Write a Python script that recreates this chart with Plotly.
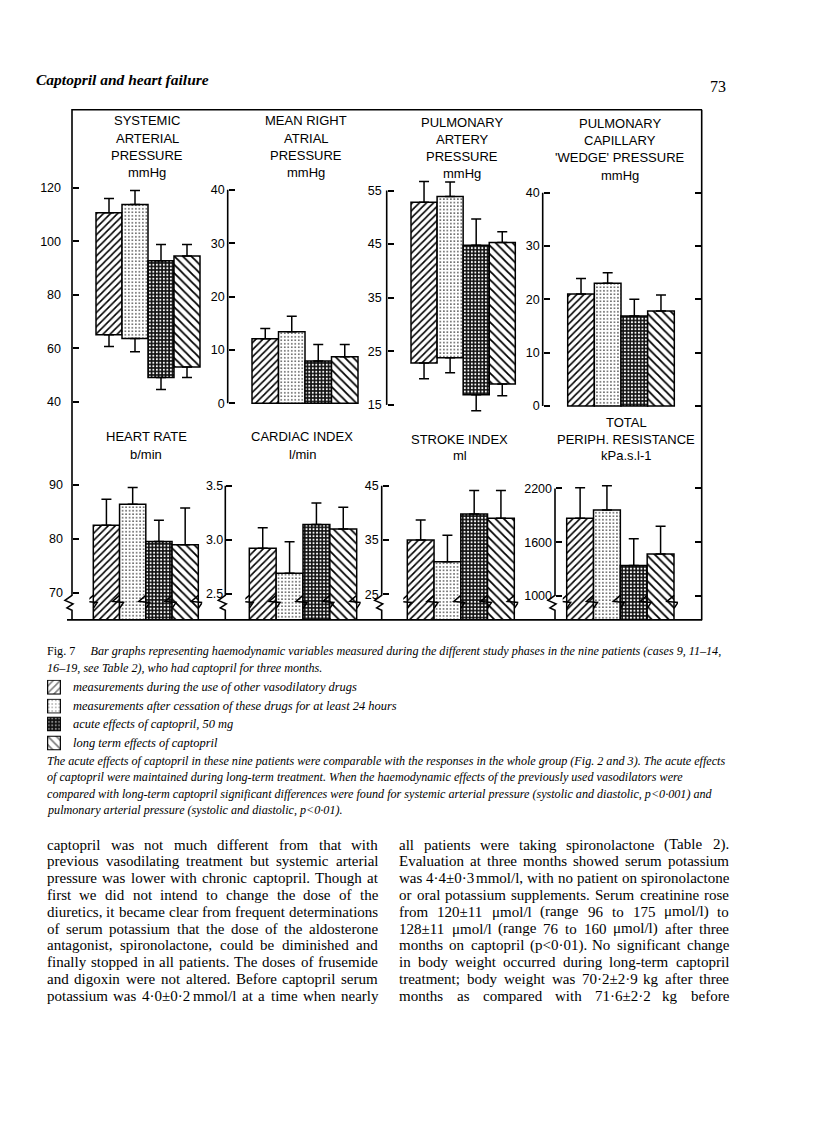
import plotly.graph_objects as go

# page is rendered inside the default 8px body margin, so the figure is
# 800x1109 and reference pixel coordinates are shifted by 8px
FW, FH, OFF = 800, 1109, 8
def X(px): return (px - OFF) / FW
def Y(py): return 1 - (py - OFF) / FH

# ---------------- data ----------------
phases = ["other vasodilators", "after cessation", "acute captopril 50 mg", "long-term captopril"]

sap_sys = [110.7, 113.8, 92.7, 94.5]
sap_sys_err = [116.0, 119.0, 98.8, 98.8]
sap_dia = [65.0, 63.6, 49.0, 53.0]
sap_dia_err = [60.6, 58.7, 44.5, 49.0]

rap = [12.1, 13.4, 7.9, 8.7]
rap_err = [14.0, 16.3, 11.0, 11.0]

pap_sys = [52.8, 53.9, 44.8, 45.3]
pap_sys_err = [56.7, 56.6, 49.7, 47.3]
pap_dia = [22.8, 23.8, 16.9, 18.9]
pap_dia_err = [19.9, 21.0, 13.9, 16.7]

pcwp = [21.0, 23.0, 16.9, 17.8]
pcwp_err = [23.9, 25.0, 20.0, 20.8]

hr = [82.5, 86.4, 79.5, 78.9]
hr_err = [87.3, 89.5, 83.4, 85.7]
ci = [2.92, 2.69, 3.14, 3.10]
ci_err = [3.11, 2.98, 3.34, 3.30]
si = [35.0, 31.0, 39.8, 39.0]
si_err = [38.7, 35.9, 44.1, 44.1]
tpr = [1866, 1958, 1340, 1470]
tpr_err = [2206, 2229, 1640, 1778]

sap_ticks = [40, 60, 80, 100, 120]
rap_ticks = [0, 10, 20, 30, 40]
pap_ticks = [15, 25, 35, 45, 55]
pcwp_ticks = [0, 10, 20, 30, 40]
hr_ticks = [70, 80, 90]
ci_ticks = [2.5, 3.0, 3.5]
ci_ticktext = ["2.5", "3.0", "3.5"]
si_ticks = [25, 35, 45]
tpr_ticks = [1000, 1600, 2200]

titles = {
    1: ["SYSTEMIC", "ARTERIAL", "PRESSURE", "mmHg"],
    2: ["MEAN RIGHT", "ATRIAL", "PRESSURE", "mmHg"],
    3: ["PULMONARY", "ARTERY", "PRESSURE", "mmHg"],
    4: ["PULMONARY", "CAPILLARY", "'WEDGE' PRESSURE", "mmHg"],
    5: ["HEART RATE", "b/min"],
    6: ["CARDIAC INDEX", "l/min"],
    7: ["STROKE INDEX", "ml"],
    8: ["TOTAL", "PERIPH. RESISTANCE", "kPa.s.l-1"],
}

legend_text = [
    "measurements during the use of other vasodilatory drugs",
    "measurements after cessation of these drugs for at least 24 hours",
    "acute effects of captopril, 50 mg",
    "long term effects of captopril",
]

caption1 = "Bar graphs representing haemodynamic variables measured during the different study phases in the nine patients (cases 9, 11–14,"
caption2 = "16–19, see Table 2), who had captopril for three months."
caption_par = [
    "The acute effects of captopril in these nine patients were comparable with the responses in the whole group (Fig. 2 and 3). The acute effects",
    "of captopril were maintained during long-term treatment. When the haemodynamic effects of the previously used vasodilators were",
    "compared with long-term captopril significant differences were found for systemic arterial pressure (systolic and diastolic, p<0·001) and",
    "pulmonary arterial pressure (systolic and diastolic, p<0·01).",
]
body_left = [
    "captopril was not much different from that with",
    "previous vasodilating treatment but systemic arterial",
    "pressure was lower with chronic captopril. Though at",
    "first we did not intend to change the dose of the",
    "diuretics, it became clear from frequent determinations",
    "of serum potassium that the dose of the aldosterone",
    "antagonist, spironolactone, could be diminished and",
    "finally stopped in all patients. The doses of frusemide",
    "and digoxin were not altered. Before captopril serum",
    "potassium was 4·0±0·2 mmol/l at a time when nearly",
]
body_right = [
    "all patients were taking spironolactone (Table 2).",
    "Evaluation at three months showed serum potassium",
    "was 4·4±0·3 mmol/l, with no patient on spironolactone",
    "or oral potassium supplements. Serum creatinine rose",
    "from 120±11 μmol/l (range 96 to 175 μmol/l) to",
    "128±11 μmol/l (range 76 to 160 μmol/l) after three",
    "months on captopril (p<0·01). No significant change",
    "in body weight occurred during long-term captopril",
    "treatment; body weight was 70·2±2·9 kg after three",
    "months as compared with 71·6±2·2 kg before",
]

# ---------------- styles / layout positions ----------------
SANS = "Liberation Sans"
SERIF = "Liberation Serif"
styles = [
    dict(shape="/", fgcolor="black", bgcolor="white", size=5, solidity=0.32),
    dict(shape=".", fgcolor="black", bgcolor="white", size=3.5, solidity=0.14),
    dict(shape=".", fgcolor="white", bgcolor="#111111", size=3.5, solidity=0.28),
    dict(shape="\\", fgcolor="black", bgcolor="white", size=6, solidity=0.3),
]

BASE_PX = 620.5
panels = [
    dict(k=1, top=sap_sys, top_err=sap_sys_err, bot=sap_dia, bot_err=sap_dia_err,
         bars=(96, 200), axis=72, cal=(120, 187.3, 40, 401.7), rng=(38, 122),
         ticks=sap_ticks, tt=None, standoff=11, cx=147, ty=[120, 138, 155, 172]),
    dict(k=2, top=rap, top_err=rap_err, bars=(252, 358), axis=227.7,
         cal=(40, 189.3, 0, 403.3), rng=(-1, 41), ticks=rap_ticks, tt=None,
         standoff=3, cx=306, ty=[120, 138, 155, 172]),
    dict(k=3, top=pap_sys, top_err=pap_sys_err, bot=pap_dia, bot_err=pap_dia_err,
         bars=(411, 515.3), axis=386.7, cal=(55, 190, 15, 405), rng=(12, 57),
         ticks=pap_ticks, tt=None, standoff=5, cx=462, ty=[122, 139, 156, 173]),
    dict(k=4, top=pcwp, top_err=pcwp_err, bars=(567.7, 674.3), axis=542.7,
         cal=(40, 192.3, 0, 406), rng=(-1, 41), ticks=pcwp_ticks, tt=None,
         standoff=3, cx=620, ty=[123, 140, 157, 175]),
    dict(k=5, top=hr, top_err=hr_err, bars=(93.3, 198.3), axis=72,
         cal=(90, 485, 70, 593.3), hi=92, ticks=hr_ticks, tt=None,
         standoff=9, cx=146, ty=[437, 455]),
    dict(k=6, top=ci, top_err=ci_err, bars=(249.3, 356.7), axis=225.3,
         cal=(3.5, 486, 2.5, 594.3), hi=3.6, ticks=ci_ticks, tt=ci_ticktext,
         standoff=2, cx=302, ty=[437, 455]),
    dict(k=7, top=si, top_err=si_err, bars=(407.3, 514.3), axis=381.7,
         cal=(45, 486, 25, 595), hi=46.5, ticks=si_ticks, tt=None,
         standoff=3, cx=460, ty=[440, 456]),
    dict(k=8, top=tpr, top_err=tpr_err, bars=(566.7, 674), axis=555,
         cal=(2200, 488.7, 1000, 596.7), hi=2300, ticks=tpr_ticks, tt=None,
         standoff=3, cx=626, ty=[423, 440, 456]),
]

def v2p(cal, v):
    va, pa, vb, pb = cal
    return pa + (v - va) * (pb - pa) / (vb - va)

def p2v(cal, p):
    va, pa, vb, pb = cal
    return va + (p - pa) * (vb - va) / (pb - pa)

fig = go.Figure()
layout = dict(width=FW, height=FH, margin=dict(l=0, r=0, t=0, b=0),
              paper_bgcolor="white", plot_bgcolor="rgba(0,0,0,0)",
              showlegend=False, barmode="overlay")
shapes = []
annotations = []
LINE = dict(color="black", width=1.6)

def err_trace(xa, ya, x, y, up, down):
    return go.Scatter(x=[x], y=[y], xaxis=xa, yaxis=ya, mode="markers",
                      marker=dict(size=1, opacity=0), hoverinfo="skip",
                      error_y=dict(type="data", symmetric=False, array=[up],
                                   arrayminus=[down], color="black",
                                   thickness=1.5, width=5))

def zig_points(a, ytop):
    return [(a, ytop), (a, 596), (a - 7, 601), (a + 1, 604.5), (a - 5, 608.5),
            (a, 611), (a, BASE_PX)]

def to_path(pts):
    return "M " + " L ".join(f"{X(px)},{Y(py)}" for px, py in pts)

for P in panels:
    k = P["k"]
    xa, ya = f"x{k}", f"y{k}"
    cal = P["cal"]
    if "rng" in P:
        lo, hi = P["rng"]
    else:
        lo, hi = p2v(cal, BASE_PX), P["hi"]
    bx0, bx1 = P["bars"]
    unit = (bx1 - bx0) / 4.0
    layout[f"xaxis{k}"] = dict(domain=[X(bx0 - 0.15 * unit), X(bx1 + 0.15 * unit)],
                               range=[-0.65, 3.65], visible=False, anchor=ya,
                               fixedrange=True)
    yax = dict(domain=[Y(v2p(cal, lo)), Y(v2p(cal, hi))], range=[lo, hi],
               anchor="free", position=X(P["axis"]), side="left",
               ticks="inside", ticklen=6, tickwidth=1.5, tickcolor="black",
               tickvals=P["ticks"], showline=False, showgrid=False,
               zeroline=False, fixedrange=True, ticklabelstandoff=P["standoff"],
               tickfont=dict(family=SANS, size=12.5, color="black"))
    if P["tt"] is not None:
        yax["ticktext"] = P["tt"]
    layout[f"yaxis{k}"] = yax

    for j in range(4):
        base = P["bot"][j] if "bot" in P else (0 if k <= 4 else lo)
        st = styles[j]
        fig.add_trace(go.Bar(
            x=[j], y=[P["top"][j] - base], base=[base], width=1.0,
            xaxis=xa, yaxis=ya, name=phases[j], hoverinfo="skip",
            marker=dict(color="white", line=dict(color="black", width=1.5),
                        pattern=dict(shape=st["shape"], fgcolor=st["fgcolor"],
                                     bgcolor=st["bgcolor"], size=st["size"],
                                     solidity=st["solidity"], fillmode="replace"))))
        fig.add_trace(err_trace(xa, ya, j, P["top"][j], P["top_err"][j] - P["top"][j], 0))
        if "bot" in P:
            fig.add_trace(err_trace(xa, ya, j, P["bot"][j], 0, P["bot"][j] - P["bot_err"][j]))

    for line, ty in zip(titles[k], P["ty"]):
        annotations.append(dict(x=X(P["cx"]), y=Y(ty), xref="paper", yref="paper",
                                text=line, showarrow=False, xanchor="center",
                                yanchor="middle",
                                font=dict(family=SANS, size=13, color="black")))

    ax = X(P["axis"])
    if k in (2, 3, 4):
        shapes.append(dict(type="line", xref="paper", yref=ya, x0=ax, x1=ax,
                           y0=P["ticks"][0], y1=P["ticks"][-1], line=LINE))
    if k in (6, 7, 8):
        shapes.append(dict(type="path", xref="paper", yref="paper",
                           path=to_path(zig_points(P["axis"], v2p(cal, P["ticks"][-1]))),
                           line=LINE))
    if k >= 5:
        u = 1.0 / unit
        for b in [-0.5, 0.5, 1.5, 2.5, 3.5]:
            path = (f"M {b},{Y(596)} L {b - 7*u},{Y(602)} L {b + 4*u},{Y(603)} "
                    f"L {b},{Y(609)}")
            shapes.append(dict(type="path", xref=xa, yref="paper", path=path,
                               line=dict(color="black", width=1.5)))

# right-border ticks (overlaying axes)
for kk, base_k, tv in [(9, 4, pcwp_ticks), (10, 8, tpr_ticks)]:
    ref = layout[f"yaxis{base_k}"]
    layout[f"yaxis{kk}"] = dict(overlaying=f"y{base_k}", range=ref["range"],
                                anchor="free", position=X(701.7), side="right",
                                ticks="inside", ticklen=7, tickwidth=1.5,
                                tickcolor="black", tickvals=tv,
                                showticklabels=False, showline=False,
                                showgrid=False, zeroline=False, fixedrange=True)
    fig.add_trace(go.Scatter(x=[1.5], y=[tv[1]], xaxis=f"x{base_k}", yaxis=f"y{kk}",
                             mode="markers", marker=dict(size=1, opacity=0),
                             hoverinfo="skip"))

# figure box, left border carries the heart-rate axis break
box_left = [(702, 109)] + [(72, 109)] + zig_points(72, 109)[1:]
shapes.append(dict(type="path", xref="paper", yref="paper", path=to_path(box_left),
                   line=LINE))
shapes.append(dict(type="line", xref="paper", yref="paper", x0=X(701.7), x1=X(701.7),
                   y0=Y(109), y1=Y(621), line=LINE))
shapes.append(dict(type="line", xref="paper", yref="paper", x0=X(67), x1=X(702),
                   y0=Y(BASE_PX), y1=Y(BASE_PX), line=LINE))

# ---------------- text metrics (Times-compatible) ----------------
def build(spec):
    t = {}
    for chars, w in spec:
        for c in chars:
            t[c] = w
    return t

ROMAN = build([(" ,.·", 250), (";:/ijlt", 278), ("()-'fr", 333), ("s", 389),
               ("0123456789μ–bdghknopquvxy", 500), ("±<>+=", 564), ("acez", 444),
               ("m", 778), ("w", 722), ("ADGHKNOQUVXY", 722), ("BCR", 667),
               ("ELTZ", 611), ("FPS", 556), ("I", 333), ("J", 389), ("M", 889), ("W", 944)])
ITALIC = build([(" ,.·", 250), (":;()-'", 333), ("/fijlt", 278), ("rsz", 389),
                ("0123456789–abdghnopqu", 500), ("cekvxy", 444), ("m", 722), ("w", 667),
                ("<>±", 675), ("ABEFPRVX", 611), ("CKN", 667), ("DGHOQU", 722),
                ("I", 333), ("J", 444), ("LTYZ", 556), ("MW", 833), ("S", 500)])

def width(s, fs, table=ROMAN):
    return sum(table.get(c, 500) for c in s) / 1000.0 * fs

def esc(s):
    return s.replace("&", "&amp;").replace("<", "&lt;").replace(">", "&gt;")

TEXT_L, TEXT_R = 46, 728

# header
annotations.append(dict(x=X(34), y=Y(79), xref="paper", yref="paper",
                        text="<b><i>Captopril and heart failure</i></b>", showarrow=False,
                        xanchor="left", yanchor="middle",
                        font=dict(family=SERIF, size=15.5, color="black")))
annotations.append(dict(x=X(TEXT_R), y=Y(86), xref="paper", yref="paper",
                        text="73", showarrow=False, xanchor="right", yanchor="middle",
                        font=dict(family=SERIF, size=16, color="black")))

# caption: size chosen so that the first line spans the text block
prefix = "Fig. 7"
line1_em = width(prefix, 1) + 1.25 + width(caption1, 1, ITALIC)
cap_fs = round((TEXT_R - 4 - TEXT_L) / line1_em, 2)
annotations.append(dict(x=X(TEXT_L - 1), y=Y(652), xref="paper", yref="paper",
                        text=prefix + "\u2003 <i>" + esc(caption1) + "</i>", showarrow=False,
                        xanchor="left", yanchor="middle",
                        font=dict(family=SERIF, size=cap_fs, color="black")))
annotations.append(dict(x=X(TEXT_L - 1), y=Y(669), xref="paper", yref="paper",
                        text="<i>" + esc(caption2) + "</i>", showarrow=False,
                        xanchor="left", yanchor="middle",
                        font=dict(family=SERIF, size=cap_fs, color="black")))
for i, line in enumerate(caption_par):
    annotations.append(dict(x=X(TEXT_L - 1), y=Y(762 + i * 16.4), xref="paper", yref="paper",
                            text="<i>" + esc(line) + "</i>", showarrow=False,
                            xanchor="left", yanchor="middle",
                            font=dict(family=SERIF, size=cap_fs, color="black")))

# legend swatches
leg_y = [688, 707, 725, 744]
for j, ry in enumerate(leg_y):
    kk = 11 + j
    layout[f"xaxis{kk}"] = dict(domain=[X(47), X(61)], range=[-0.55, 0.55],
                                visible=False, anchor=f"y{kk}", fixedrange=True)
    layout[f"yaxis{kk}"] = dict(domain=[Y(ry + 7.5), Y(ry - 7.5)], range=[-0.04, 1.04],
                                visible=False, anchor=f"x{kk}", fixedrange=True)
    st = styles[j]
    fig.add_trace(go.Bar(x=[0], y=[1], width=1.0, xaxis=f"x{kk}", yaxis=f"y{kk}",
                         hoverinfo="skip",
                         marker=dict(color="white", line=dict(color="black", width=1.2),
                                     pattern=dict(shape=st["shape"], fgcolor=st["fgcolor"],
                                                  bgcolor=st["bgcolor"], size=st["size"],
                                                  solidity=st["solidity"]))))
    annotations.append(dict(x=X(71), y=Y(ry), xref="paper", yref="paper",
                            text=f"<i>{legend_text[j]}</i>", showarrow=False,
                            xanchor="left", yanchor="middle",
                            font=dict(family=SERIF, size=cap_fs + 0.3, color="black")))

# body columns, justified word by word
BODY_FS = 15.0
def add_column(lines, x0, x1, y0, dy):
    colw = x1 - x0
    for i, line in enumerate(lines):
        words = line.split(" ")
        ws = [width(w, BODY_FS) for w in words]
        gap = (colw - sum(ws)) / max(len(words) - 1, 1)
        x = x0
        for w, wd in zip(words, ws):
            annotations.append(dict(x=X(x), y=Y(y0 + i * dy), xref="paper", yref="paper",
                                    text=esc(w), showarrow=False, xanchor="left",
                                    yanchor="middle", borderpad=0,
                                    font=dict(family=SERIF, size=BODY_FS, color="black")))
            x += wd + gap

add_column(body_left, TEXT_L, 377, 846, 16.8)
add_column(body_right, 398, TEXT_R, 846, 16.8)

layout["shapes"] = shapes
layout["annotations"] = annotations
fig.update_layout(**layout)
fig.write_html("out.html")
